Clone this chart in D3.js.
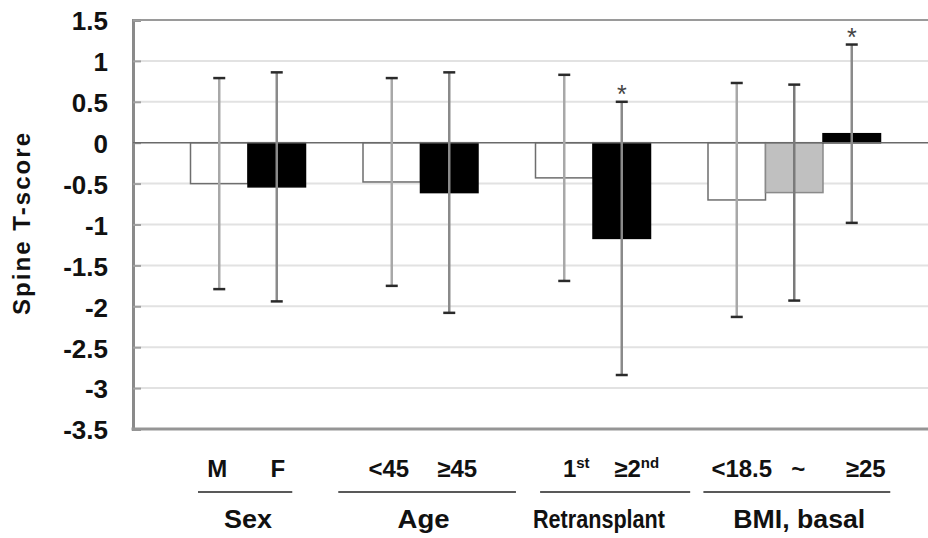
<!DOCTYPE html>
<html>
<head>
<meta charset="utf-8">
<script src="https://cdn.jsdelivr.net/npm/d3@7"></script>
<style>
  body { margin: 0; background: #fff; }
  text { font-family: "Liberation Sans", Arial, sans-serif; }
</style>
</head>
<body>
<div id="chart"></div>
<script>
// data
const categories = ["M", "F", "<45", "≥45", "1st", "≥2nd", "<18.5", "~", "≥25"];
const groups = ["Sex", "Age", "Retransplant", "BMI, basal"];
const groupOf = [0, 0, 1, 1, 2, 2, 3, 3, 3];
const means = [-0.50, -0.54, -0.48, -0.61, -0.43, -1.17, -0.70, -0.61, 0.11];
const sds = [1.29, 1.40, 1.27, 1.47, 1.26, 1.67, 1.43, 1.32, 1.09];
const kinds = ["open", "solid", "open", "solid", "open", "solid", "open", "mid", "solid"];
const significant = [false, false, false, false, false, true, false, false, true];
const yTicks = [1.5, 1, 0.5, 0, -0.5, -1, -1.5, -2, -2.5, -3, -3.5];

const W = 928, H = 538;
const margin = {top: 20, left: 133, bottom: 429};

const svg = d3.select("#chart").append("svg")
  .attr("width", W).attr("height", H);

// x slots: empty slot before each group, like the original spreadsheet layout
const slots = [];
categories.forEach((c, i) => {
  if (i === 0 || groupOf[i] !== groupOf[i - 1]) slots.push("_gap" + i);
  slots.push(c);
});
slots.push("_end");

const x = d3.scaleBand().domain(slots).range([margin.left, margin.left + 57.5 * slots.length]);
const y = d3.scaleLinear().domain([-3.5, 1.5]).range([margin.bottom, margin.top]);

const fill = d3.scaleOrdinal().domain(["open", "solid", "mid"]).range(["#fff", "#000", "#c0c0c0"]);
const edge = d3.scaleOrdinal().domain(["open", "solid", "mid"]).range(["#6e6e6e", "#000", "#8a8a8a"]);
const whisker = d3.scaleOrdinal().domain(["open", "solid", "mid"]).range(["#a8a8a8", "#8a8a8a", "#7a7a7a"]);

const data = categories.map((c, i) => ({
  cat: c, mean: means[i], sd: sds[i], kind: kinds[i], sig: significant[i], group: groupOf[i]
}));

// grid
svg.append("g").selectAll("line")
  .data(yTicks.filter(t => t !== 0 && t !== 1.5 && t !== -3.5))
  .join("line")
  .attr("x1", margin.left).attr("x2", W)
  .attr("y1", d => y(d)).attr("y2", d => y(d))
  .attr("stroke", "#e2e2e2").attr("stroke-width", 2);

// top border
svg.append("line")
  .attr("x1", margin.left).attr("x2", W)
  .attr("y1", y(1.5)).attr("y2", y(1.5))
  .attr("stroke", "#9a9a9a").attr("stroke-width", 2);

// y axis
const yAxis = svg.append("g")
  .attr("transform", `translate(${margin.left},0)`)
  .call(d3.axisLeft(y).tickValues(yTicks).tickSize(-8).tickPadding(25).tickFormat(d3.format("")));
yAxis.select(".domain").attr("stroke", "#8a8a8a").attr("stroke-width", 3);
yAxis.selectAll(".tick line").attr("stroke", "#a0a0a0").attr("stroke-width", 2);
yAxis.selectAll(".tick text")
  .attr("font-size", 26).attr("font-weight", "bold").attr("fill", "#111")
  .attr("dy", "0.38em")
  .text(d => d === 0 ? "0" : String(d).replace("−", "-"));

svg.append("text")
  .attr("transform", `translate(30,224) rotate(-90)`)
  .attr("text-anchor", "middle")
  .attr("font-size", 24).attr("font-weight", "bold").attr("fill", "#111")
  .attr("textLength", 182)
  .text("Spine T-score");

// bars
svg.append("g").selectAll("rect")
  .data(data)
  .join("rect")
  .attr("x", d => x(d.cat))
  .attr("width", x.bandwidth())
  .attr("y", d => y(Math.max(0, d.mean)))
  .attr("height", d => Math.abs(y(d.mean) - y(0)))
  .attr("fill", d => fill(d.kind))
  .attr("stroke", d => edge(d.kind))
  .attr("stroke-width", 1.5);

// zero line
svg.append("line")
  .attr("x1", margin.left).attr("x2", W)
  .attr("y1", y(0)).attr("y2", y(0))
  .attr("stroke", "#6a6a6a").attr("stroke-width", 1.5);

// error bars
const cx = d => x(d.cat) + x.bandwidth() / 2;
const err = svg.append("g").selectAll("g")
  .data(data)
  .join("g");
err.append("line")
  .attr("x1", cx).attr("x2", cx)
  .attr("y1", d => y(d.mean + d.sd)).attr("y2", d => y(d.mean - d.sd))
  .attr("stroke", d => whisker(d.kind)).attr("stroke-width", 2.5);
err.selectAll("line.cap")
  .data(d => [d.mean + d.sd, d.mean - d.sd].map(v => ({v, c: cx(d)})))
  .join("line").attr("class", "cap")
  .attr("x1", d => d.c - 6).attr("x2", d => d.c + 6)
  .attr("y1", d => y(d.v)).attr("y2", d => y(d.v))
  .attr("stroke", "#2a2a2a").attr("stroke-width", 2.5);

// significance marks
svg.append("g").selectAll("text")
  .data(data.filter(d => d.sig))
  .join("text")
  .attr("x", cx)
  .attr("y", d => y(d.mean + d.sd) + 1)
  .attr("text-anchor", "middle")
  .attr("font-size", 25).attr("fill", "#444")
  .text("*");

// category labels under the plot
const labelDx = [-2, 1, -3, 8, 12, 15, 5, 4, 14];
const catText = svg.append("g").selectAll("text")
  .data(data)
  .join("text")
  .attr("x", (d, i) => cx(d) + labelDx[i])
  .attr("y", 477)
  .attr("text-anchor", "middle")
  .attr("font-size", 24).attr("font-weight", "bold").attr("fill", "#111");
catText.each(function(d) {
  const t = d3.select(this);
  const m = d.cat.match(/^(≥?\d)(st|nd)$/);
  if (m) {
    t.append("tspan").text(m[1]);
    t.append("tspan").attr("font-size", 15).attr("dy", -9).text(m[2]);
  } else {
    t.text(d.cat);
  }
});

// group underlines and names
const groupExtend = [[0.13, -0.23], [-0.43, 0.66], [0.08, 0.69], [-0.08, 0.17]];
const groupData = groups.map((g, gi) => {
  const members = data.filter(d => d.group === gi);
  const x0 = x(members[0].cat), x1 = x(members[members.length - 1].cat) + x.bandwidth();
  return {
    name: g,
    mid: (x0 + x1) / 2,
    x0: x0 + groupExtend[gi][0] * x.bandwidth(),
    x1: x1 + groupExtend[gi][1] * x.bandwidth()
  };
});
svg.append("g").selectAll("line")
  .data(groupData)
  .join("line")
  .attr("x1", d => d.x0).attr("x2", d => d.x1)
  .attr("y1", 492).attr("y2", 492)
  .attr("stroke", "#222").attr("stroke-width", 1.5);

const groupDx = [0, 3, 6, 5];
const groupWidth = [48, 52, 132, 132];
svg.append("g").selectAll("text")
  .data(groupData)
  .join("text")
  .attr("x", (d, i) => d.mid + groupDx[i])
  .attr("y", 528)
  .attr("text-anchor", "middle")
  .attr("font-size", 25).attr("font-weight", "bold").attr("fill", "#111")
  .attr("textLength", (d, i) => groupWidth[i])
  .attr("lengthAdjust", "spacingAndGlyphs")
  .text(d => d.name);

// bottom axis line
svg.append("line")
  .attr("x1", margin.left - 1.5).attr("x2", W)
  .attr("y1", y(-3.5)).attr("y2", y(-3.5))
  .attr("stroke", "#959595").attr("stroke-width", 3);
</script>
</body>
</html>
